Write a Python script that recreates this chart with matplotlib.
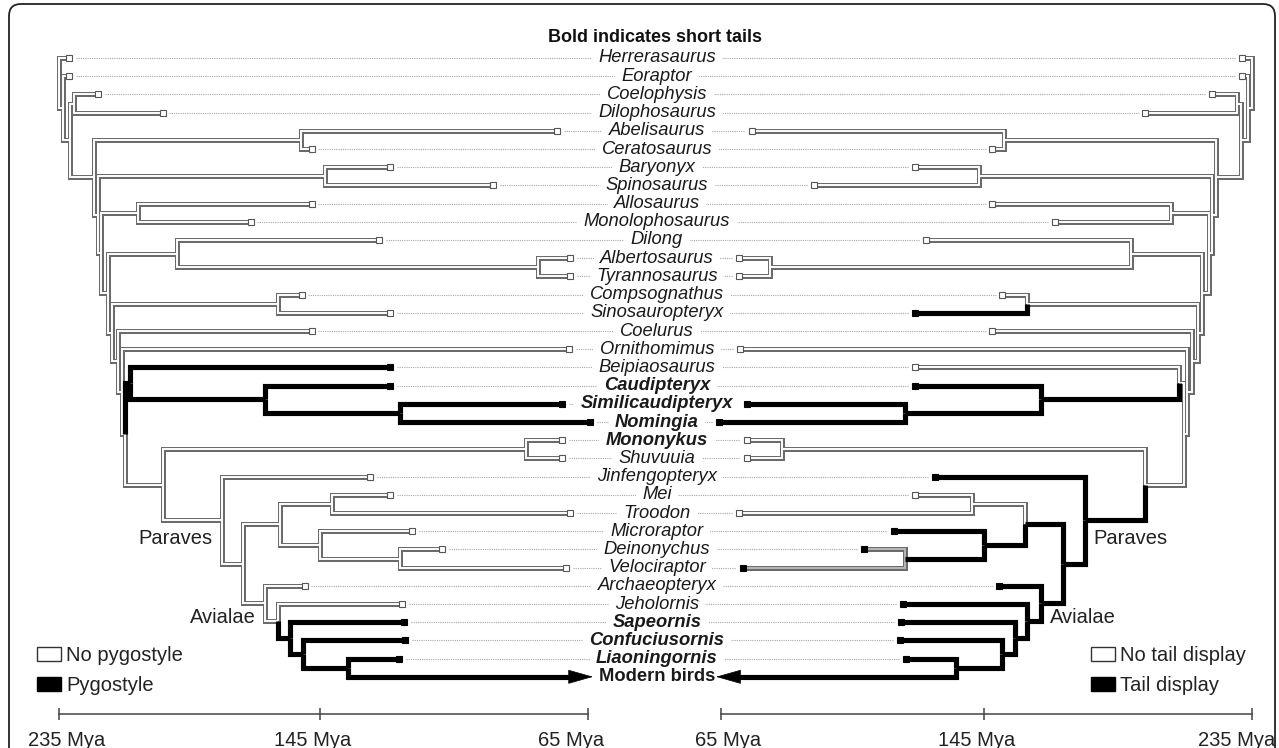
import numpy as np
import matplotlib
matplotlib.use('Agg')
import matplotlib.pyplot as plt
from matplotlib.patches import Patch, FancyBboxPatch
from matplotlib.transforms import blended_transform_factory, IdentityTransform

plt.rcParams['font.family'] = ['Liberation Sans', 'DejaVu Sans']

# taxa, top to bottom, with tip ages (Mya)
taxa = ['Herrerasaurus', 'Eoraptor', 'Coelophysis', 'Dilophosaurus', 'Abelisaurus',
        'Ceratosaurus', 'Baryonyx', 'Spinosaurus', 'Allosaurus', 'Monolophosaurus',
        'Dilong', 'Albertosaurus', 'Tyrannosaurus', 'Compsognathus', 'Sinosauropteryx',
        'Coelurus', 'Ornithomimus', 'Beipiaosaurus', 'Caudipteryx', 'Similicaudipteryx',
        'Nomingia', 'Mononykus', 'Shuvuuia', 'Jinfengopteryx', 'Mei', 'Troodon',
        'Microraptor', 'Deinonychus', 'Velociraptor', 'Archaeopteryx', 'Jeholornis',
        'Sapeornis', 'Confuciusornis', 'Liaoningornis', 'Modern birds']
tip_age = [231.5, 231.5, 221.5, 199.1, 74.3, 147.8, 124.1, 93.4, 147.8, 168.8,
           127.4, 70.4, 70.4, 151.2, 124.1, 147.8, 70.7, 124.1, 124.1, 72.8,
           64.5, 72.8, 72.8, 130.1, 124.1, 70.4, 117.5, 108.6, 71.6, 150.2,
           120.5, 119.9, 119.6, 121.4, 63.5]
short_tail = ['Caudipteryx', 'Similicaudipteryx', 'Nomingia', 'Mononykus', 'Sapeornis',
              'Confuciusornis', 'Liaoningornis', 'Modern birds']

# internal nodes
node_names = ['root', 'n_eor', 'neo', 'coel_dilo', 'averostra', 'cerat', 'tetanurae',
              'spino', 'avetheropoda', 'allo_mono', 'coelurosauria', 'tyranno', 'alb_tyr',
              'c2', 'compso_sino', 'c3', 'c4', 'c5', 'ovi', 'caud', 'simi_nom', 'c6',
              'alvarez', 'paraves', 'p2', 'p3', 'troodontid', 'dromaeo', 'dein_velo',
              'avialae', 'a2', 'a3', 'a4', 'a5']
node_kids = [('Herrerasaurus', 'n_eor'), ('Eoraptor', 'neo'), ('coel_dilo', 'averostra'),
             ('Coelophysis', 'Dilophosaurus'), ('cerat', 'tetanurae'),
             ('Abelisaurus', 'Ceratosaurus'), ('spino', 'avetheropoda'),
             ('Baryonyx', 'Spinosaurus'), ('allo_mono', 'coelurosauria'),
             ('Allosaurus', 'Monolophosaurus'), ('tyranno', 'c2'), ('Dilong', 'alb_tyr'),
             ('Albertosaurus', 'Tyrannosaurus'), ('compso_sino', 'c3'),
             ('Compsognathus', 'Sinosauropteryx'), ('Coelurus', 'c4'),
             ('Ornithomimus', 'c5'), ('ovi', 'c6'), ('Beipiaosaurus', 'caud'),
             ('Caudipteryx', 'simi_nom'), ('Similicaudipteryx', 'Nomingia'),
             ('alvarez', 'paraves'), ('Mononykus', 'Shuvuuia'), ('Jinfengopteryx', 'p2'),
             ('p3', 'avialae'), ('troodontid', 'dromaeo'), ('Mei', 'Troodon'),
             ('Microraptor', 'dein_velo'), ('Deinonychus', 'Velociraptor'),
             ('Archaeopteryx', 'a2'), ('Jeholornis', 'a3'), ('Sapeornis', 'a4'),
             ('Confuciusornis', 'a5'), ('Liaoningornis', 'Modern birds')]
node_age = [235.0, 233.6, 231.2, 229.8, 222.9, 151.6, 221.6, 143.5, 220.5, 207.8,
            218.1, 194.3, 79.9, 216.7, 159.5, 214.7, 213.3, 212.2, 210.5, 164.0,
            121.1, 199.1, 83.5, 178.8, 171.6, 158.8, 141.4, 145.0, 121.1, 164.0,
            159.5, 155.3, 150.9, 136.6]

# character states (branches named by their child)
pygostyle_branches = ['ovi', 'Beipiaosaurus', 'caud', 'Caudipteryx', 'simi_nom',
                      'Similicaudipteryx', 'Nomingia', 'a3', 'Sapeornis', 'a4',
                      'Confuciusornis', 'a5', 'Liaoningornis', 'Modern birds']
pygostyle_tips = ['Beipiaosaurus', 'Caudipteryx', 'Similicaudipteryx', 'Nomingia',
                  'Sapeornis', 'Confuciusornis', 'Liaoningornis']
display_branches = ['Sinosauropteryx', 'caud', 'Caudipteryx', 'simi_nom',
                    'Similicaudipteryx', 'Nomingia', 'paraves', 'Jinfengopteryx', 'p2',
                    'p3', 'dromaeo', 'Microraptor', 'dein_velo', 'avialae',
                    'Archaeopteryx', 'a2', 'Jeholornis', 'a3', 'Sapeornis', 'a4',
                    'Confuciusornis', 'a5', 'Liaoningornis', 'Modern birds']
display_unsure = ['Deinonychus', 'Velociraptor']
display_tips = ['Sinosauropteryx', 'Caudipteryx', 'Similicaudipteryx', 'Nomingia',
                'Jinfengopteryx', 'Microraptor', 'Deinonychus', 'Velociraptor',
                'Archaeopteryx', 'Jeholornis', 'Sapeornis', 'Confuciusornis',
                'Liaoningornis']

time_ticks = [235, 145, 65]

# --- layout helpers -------------------------------------------------------
W, H = 1279, 748
kids = dict(zip(node_names, node_kids))
age = dict(zip(taxa, tip_age))
age.update(zip(node_names, node_age))
ypos = {t: i for i, t in enumerate(taxa)}


def place(n):
    if n not in ypos:
        ypos[n] = np.mean([place(k) for k in kids[n]])
    return ypos[n]


place('root')


def make_scale(d145, d235):
    # piecewise time axis (the scale bar in the figure is not quite linear)
    s_lo = d145 / 80.0
    s_hi = (d235 - d145) / 90.0
    mk = np.array([-300.0, 65, 145, 235, 600])
    dk = np.array([-365 * s_lo, 0, d145, d235, d235 + 365 * s_hi])
    return (lambda m: np.interp(m, mk, dk)), (lambda d: np.interp(d, dk, mk))


fwdL, invL = make_scale(268, 529)
fwdR, invR = make_scale(263, 531)

fig = plt.figure(figsize=(W / 100, H / 100), dpi=100)
top_px, bot_px = 20, 714
row0, pitch = 58, 18.2
mid_px = 657

axL = fig.add_axes([15 / W, (H - bot_px) / H, (mid_px - 15) / W, (bot_px - top_px) / H])
axR = fig.add_axes([mid_px / W, (H - bot_px) / H, (1272 - mid_px) / W, (bot_px - top_px) / H])
axL.set_xscale('function', functions=(fwdL, invL))
axR.set_xscale('function', functions=(fwdR, invR))
axL.set_xlim(float(invL(588 - 15)), float(invL(588 - mid_px)))
axR.set_xlim(float(invR(mid_px - 721)), float(invR(1272 - 721)))
for ax in (axL, axR):
    ax.set_ylim((bot_px - row0) / pitch, (top_px - row0) / pitch)
    ax.patch.set_visible(False)
    for s in ('top', 'left', 'right'):
        ax.spines[s].set_visible(False)
    ax.spines['bottom'].set_bounds(65, 235)
    ax.spines['bottom'].set_color('#444444')
    ax.spines['bottom'].set_linewidth(1.1)
    ax.set_yticks([])
    ax.set_xticks(time_ticks)
    ax.set_xticks([], minor=True)
    ax.tick_params(axis='x', direction='inout', length=8.6, width=1.1,
                   color='#444444', labelbottom=False)

label_dx = {axL: {235: 7.5, 145: -7, 65: -17}, axR: {65: 7, 145: -7, 235: -15}}
for ax in (axL, axR):
    for t in time_ticks:
        ax.annotate(f'{t} Mya', xy=(t, 0), xycoords=('data', 'axes fraction'),
                    xytext=(label_dx[ax][t], -27), textcoords='offset pixels',
                    ha='center', va='center', fontsize=14.5, color='#222222')

OUTLINE = '#6b6b6b'


def draw_tree(ax, black, unsure, black_tips):
    for parent, pair in zip(node_names, node_kids):
        for child in pair:
            end = age[child] + (4.5 if child == 'Modern birds' else 0)
            xs = [age[parent], age[parent], end]
            ys = [ypos[parent], ypos[child], ypos[child]]
            if child in black:
                ax.plot(xs, ys, color='black', lw=3.7, solid_joinstyle='miter',
                        solid_capstyle='butt', zorder=4)
            else:
                ax.plot(xs, ys, color=OUTLINE, lw=3.6, solid_joinstyle='miter',
                        solid_capstyle='projecting', zorder=2)
                fill = '#b8b8b8' if child in unsure else 'white'
                ax.plot(xs, ys, color=fill, lw=1.4, solid_joinstyle='miter',
                        solid_capstyle='butt', zorder=3)
    for t in taxa:
        y = ypos[t]
        if t == 'Modern birds':
            ax.annotate('', xy=(age[t], y), xytext=(age[t] + 7, y),
                        arrowprops=dict(arrowstyle='-|>,head_length=1.66,head_width=0.47',
                                        mutation_scale=10, color='black', lw=0.5,
                                        shrinkA=0, shrinkB=0), zorder=5)
            continue
        ax.plot([age[t] - 2.2, 20], [y, y], color='#a8a8a8', lw=0.8,
                ls=(0, (1, 1)), zorder=1)
        if t in black_tips:
            ax.plot(age[t], y, marker='s', ms=3.8, mfc='black', mec='black',
                    mew=0.8, zorder=5)
        else:
            ax.plot(age[t], y, marker='s', ms=3.8, mfc='white', mec='#555555',
                    mew=0.8, zorder=5)


draw_tree(axL, pygostyle_branches, [], pygostyle_tips)
draw_tree(axR, display_branches, display_unsure, display_tips)

# clade labels
for ax, dx, ha in ((axL, -9, 'right'), (axR, 9, 'left')):
    ax.annotate('Paraves', xy=(age['paraves'], ypos['paraves']), xytext=(dx, -18.5),
                textcoords='offset pixels', ha=ha, va='center', fontsize=14.5,
                color='#222222')
    ax.annotate('Avialae', xy=(age['avialae'], ypos['avialae']), xytext=(dx, -14.5),
                textcoords='offset pixels', ha=ha, va='center', fontsize=14.5,
                color='#222222')

# taxon names in the middle; white boxes first so the dotted lines stop short
tr = blended_transform_factory(fig.transFigure, axL.transData)
for t in taxa:
    bold = t in short_tail
    style = 'normal' if t == 'Modern birds' else 'italic'
    kw = dict(transform=tr, ha='center', va='center', fontsize=13.2, style=style,
              weight='bold' if bold else 'normal')
    if t != 'Modern birds':
        fig.text(mid_px / W, ypos[t], t, color='white', zorder=3,
                 bbox=dict(boxstyle='square,pad=0.35', fc='white', ec='none'), **kw)
    fig.text(mid_px / W, ypos[t], t, color='#1a1a1a', zorder=4, **kw)

fig.text(655 / W, 1 - 38 / H, 'Bold indicates short tails', ha='center', va='center',
         fontsize=13, weight='bold', color='#111111')

# legends
leg_kw = dict(loc='upper left', bbox_transform=fig.transFigure, frameon=False,
              fontsize=14.5, handlelength=1.2, handleheight=0.75, handletextpad=0.25,
              labelspacing=0.55, borderpad=0, borderaxespad=0)
for ax, x0, labels in ((axL, 37, ['No pygostyle', 'Pygostyle']),
                       (axR, 1091, ['No tail display', 'Tail display'])):
    handles = [Patch(facecolor='white', edgecolor='#333333', lw=1.0, label=labels[0]),
               Patch(facecolor='black', edgecolor='black', lw=1.0, label=labels[1])]
    leg = ax.legend(handles=handles, bbox_to_anchor=(x0 / W, 1 - 646 / H), **leg_kw)
    for txt in leg.get_texts():
        txt.set_color('#222222')

# rounded frame around the panel
frame = FancyBboxPatch((9, -30), 1266, H - 4 + 30, boxstyle='round,pad=0,rounding_size=12',
                       transform=IdentityTransform(), fill=False, ec='#222222', lw=1.3)
fig.add_artist(frame)

fig.savefig('out.png', dpi=100)
